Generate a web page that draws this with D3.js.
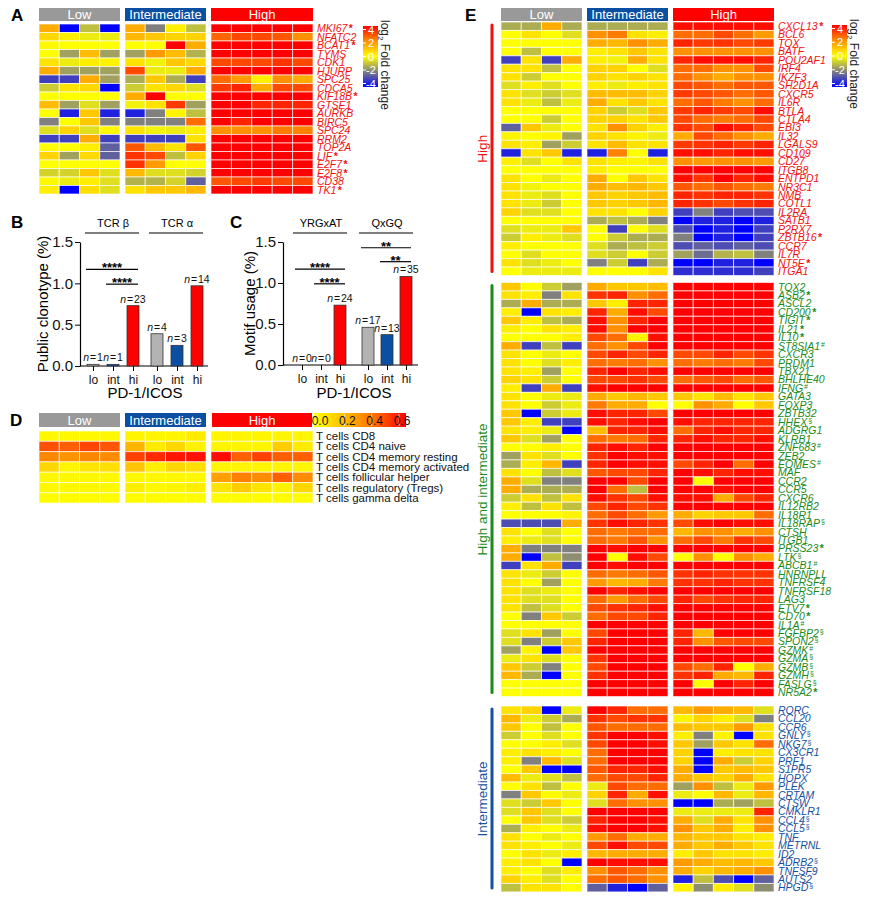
<!DOCTYPE html>
<html>
<head>
<meta charset="utf-8">
<script src="https://cdn.jsdelivr.net/npm/d3@7"></script>
<style>
  body { margin: 0; background: #fff; }
  text { font-family: "Liberation Sans", Arial, sans-serif; }
</style>
</head>
<body>
<svg width="875" height="900"></svg>
<script>
// ---------- data ----------
let groupNames = ["Low", "Intermediate", "High"];
let groupFill = ["#999999", "#0b4fa3", "#ff0000"];

// panel A : log2 fold change, 4 low / 4 int / 5 high columns
let aGenes = ["MKI67*", "NFATC2", "BCAT1*", "TYMS", "CDK1", "HJURP", "SPC25", "CDCA5", "KIF18B*", "GTSE1",
  "AURKB", "BIRC5", "SPC24", "RRM2", "TOP2A", "LIF*", "E2F7*", "E2F8*", "CD38", "TK1*"];
let aFold = [
  [1.5, -4, -1, -4, 1.5, -2, 0.3, -1, 4, 4, 4, 4, 4],
  [0.7, 0.3, -0.3, -0.3, 1.3, 1, 0.8, 0.8, 2.6, 3, 3, 2.8, 2],
  [0.1, 0, 0, 0, 0, 0, 4, 1.5, 4, 4, 4, 4, 4],
  [0, -1.5, 1.2, -1.5, -1.5, 1.8, 1.2, -1.2, 4, 4, 4, 4, 4],
  [0.5, -0.3, 0.3, 0.2, 0.5, -0.2, 1, 0.7, 3, 3, 3, 3.3, 3],
  [1.5, -1.5, -1.5, -1.5, 3, -0.3, -0.3, 1.5, 4, 4, 4, 4, 4],
  [-3, -3, 1.5, -1.5, -1.3, 1, -1.3, -3, 2.5, 1.8, 0.3, 2, 1.5],
  [-0.8, 0.5, 0.7, -4, -0.8, 0.5, 0.7, -0.5, 3.2, 3.5, 1.5, 3, 3],
  [0, 0, 0, 0, 1.5, 4, 0, 0, 4, 4, 4, 4, 4],
  [1.2, -1.5, -0.5, -1.5, -0.2, 0.5, 3.2, -1.5, 4, 4, 3.5, 3.5, 3.5],
  [0, -3.5, 1, -3.5, -3.5, -2, 0.2, -1, 4, 4, 4, 4, 4],
  [-2, 0, 1, -2, -2, -2, -2, 2.5, 4, 3.5, 4, 4, 4],
  [-0.5, 0.8, -0.5, 0.1, 0.5, -0.2, -0.3, 0.3, 2, 2, 2, 2.3, 2.2],
  [-3, -3, 1.5, -3, -3, -3, -3, 0.5, 4, 4, 4, 4, 4],
  [0, 0, 0.3, -2.5, 2.8, 1.2, 0.5, 2.8, 4, 4, 4, 4, 4],
  [0.8, -1.5, 0.7, -2.5, 3.3, 3, -1, 0.8, 4, 4, 4, 4, 4],
  [0, 0, 0, 0, 3.3, 1.8, 0, 0, 4, 4, 4, 4, 4],
  [-0.7, -0.7, 1, -0.5, 1.3, -0.5, -0.5, -0.7, 4, 4, 4, 4, 4],
  [0.1, -0.3, 0.3, -0.5, -1.2, -1.2, -0.7, -2.5, 2.8, 3, 3.2, 3, 3],
  [0.3, -4, 0.6, -0.5, 0.5, 1, 1, 1.3, 4, 4, 4, 4, 4]
];

// panel B / C
let pdLevels = ["lo", "int", "hi"];
let bGroups = ["TCR β", "TCR α"];
let bTcrBeta = [0.02, 0.02, 0.73];
let bTcrAlpha = [0.39, 0.25, 0.97];
let bTcrBetaN = [1, 1, 23];
let bTcrAlphaN = [4, 3, 14];
let cGroups = ["YRGxAT", "QxGQ"];
let cYrgxat = [0, 0, 0.73];
let cQxgq = [0.46, 0.37, 1.08];
let cYrgxatN = [0, 0, 24];
let cQxgqN = [17, 13, 35];
let yTicks = [0, 0.5, 1.0, 1.5];
// significance brackets: [group, from, to, label, height]
let bSig = [[0, "lo", "hi", "****", 1.17], [0, "int", "hi", "****", 0.99]];
let cSig = [[0, "lo", "hi", "****", 1.17], [0, "int", "hi", "****", 0.99],
            [1, "lo", "hi", "**", 1.43], [1, "int", "hi", "**", 1.26]];

// panel D : cell fractions
let dCells = ["T cells CD8", "T cells CD4 naive", "T cells CD4 memory resting", "T cells CD4 memory activated",
  "T cells follicular helper", "T cells regulatory (Tregs)", "T cells gamma delta"];
let dFraction = [
  [0.02, 0.02, 0.02, 0.02, 0.03, 0.03, 0.03, 0.06, 0.03, 0.03, 0.03, 0.03, 0.03],
  [0.45, 0.42, 0.47, 0.44, 0.22, 0.06, 0.12, 0.04, 0.03, 0.03, 0.03, 0.15, 0.06],
  [0.33, 0.3, 0.33, 0.32, 0.48, 0.52, 0.56, 0.57, 0.58, 0.42, 0.48, 0.42, 0.42],
  [0.12, 0.03, 0.08, 0.1, 0.18, 0.05, 0.12, 0.1, 0.03, 0.03, 0.03, 0.03, 0.03],
  [0.02, 0.02, 0.02, 0.02, 0.02, 0.02, 0.02, 0.02, 0.27, 0.35, 0.32, 0.42, 0.32],
  [0.02, 0.02, 0.02, 0.02, 0.05, 0.02, 0.03, 0.05, 0.08, 0.15, 0.08, 0.04, 0.12],
  [0.01, 0.01, 0.01, 0.01, 0.01, 0.01, 0.01, 0.01, 0.01, 0.01, 0.01, 0.01, 0.01]
];
let dTicks = [0, 0.2, 0.4, 0.6];

// panel E
let eHighGenes = ["CXCL13*", "BCL6", "TOX", "BATF", "POU2AF1", "IRF4", "IKZF3", "SH2D1A", "CXCR5", "IL6R",
  "BTLA", "CTLA4", "EBI3", "IL32", "LGALS9", "CD109", "CD27", "ITGB8", "ENTPD1", "NR3C1",
  "NMB", "COTL1", "IL2RA", "SATB1", "P2RX7", "ZBTB16*", "CCR7", "IL7R", "NT5E*", "ITGA1"];
let eHighFold = [
  [-1.3, -1.3, 1.5, -1.3, -1.3, -1.3, -1.3, -1.3, 3.8, 3.8, 3.8, 3.8, 3.8],
  [0, 0.5, 0, -0.5, 2, 2.3, 0.5, 0.3, 2.5, 2.5, 3, 2.5, 1.8],
  [0, 0, 0, 0, 1.5, 1.3, 2, 1.5, 3.5, 3.2, 3.3, 3, 3.2],
  [0, -1, 0, 0, 0.3, 0.5, 1, 0.5, 2, 2, 2, 2, 2],
  [-3, 0.5, -3, 1.5, 0.3, -0.2, 1.5, 0.5, 3.5, 3.8, 3.8, 3.8, 3.5],
  [0.5, 0.5, -1, 0, 0.8, 0.8, 0, -0.5, 2.5, 2.5, 2, 2, 3],
  [0.5, -0.8, 0, 0, 0.8, 0.5, 0.8, 0.5, 2.5, 2, 1.5, 2, 2],
  [-0.5, 0.3, -0.5, 0, 0.3, -0.3, 0.3, 0.5, 3, 2.8, 2.5, 2.8, 2.8],
  [0.5, -0.5, -0.8, -0.5, 1.2, 1.2, 1.2, 0.8, 3.2, 3, 2.8, 2.5, 2.8],
  [0.5, -0.3, -1, -0.3, 1.5, 0.5, 1, 0.5, 2.5, 2.8, 2.3, 2, 2.5],
  [0, 0, 0, 0, 0.8, -0.8, -0.5, 1, 3.2, 3.5, 3.2, 3, 3.8],
  [0, 0, -0.8, 0, 0.8, 0.8, 0.5, 1, 3, 2.5, 2.3, 2.5, 3],
  [-2.5, 1, -0.3, 0, 0.5, 2, 0.8, 0.3, 3.3, 3, 3.8, 3.5, 3],
  [0.2, 0, 0.2, -1.5, 0.8, 0.5, 0.2, -0.3, 1.5, 3, 2.5, 2, 1.5],
  [0.5, 0.3, -1.5, -0.8, 0.5, 1.2, 0.5, 0.5, 3.2, 3.3, 3.5, 3.2, 3.5],
  [-3.5, 0.5, 1, -3.5, -3.5, 2.2, 0, -3.5, 3.8, 3.8, 3.5, 3.8, 3.8],
  [0.3, -0.5, 0, 0.5, 0.5, 0.3, 0.2, 0.5, 2, 1.8, 2, 2, 1.8],
  [0, 0, 0, 0, 0.3, 0, 0, 0, 4, 4, 4, 4, 4],
  [0.5, 0, -0.3, 0, 1.5, 0, 1, 0.5, 3.8, 3.3, 4, 3.5, 3.8],
  [0.5, -0.2, 0, 0, 1.5, 1.2, 1.3, 1, 2.8, 2.5, 2.8, 2.5, 2.3],
  [0.5, -0.3, -0.5, 0, 1, 0.8, 1, 1.2, 3.5, 3.3, 3.5, 3.5, 3.3],
  [0.5, -0.3, -0.8, 0, 1, 0.8, 1, 1.3, 3.5, 3.3, 3, 3.3, 3.5],
  [0.8, -0.5, -0.5, 0, 0.5, 0.5, 0, 0.8, -3, -2, -3, -2.8, -2.8],
  [0, 0, 0, 0, -1.3, -1, -1.3, -2, -4, -3.5, -3.5, -4, -3.5],
  [-0.5, -0.3, -0.3, 1, 0, -3, 0, -0.5, -2.8, -4, -3.5, -4, -3],
  [-0.8, 0.3, -0.3, -0.5, 0, -0.8, -1.3, -1.3, -2, -4, -3.5, -4, -3],
  [0.3, 0, 0, 0, -0.5, -1.3, -1, -0.8, -2.8, -2.5, -2.8, -2.5, -2.8],
  [0, -0.5, 0, 0, -0.5, -0.8, 0, -0.8, -1.5, -2.3, -1.2, -1, -2],
  [0.5, -0.5, -0.3, 0, -2, -0.8, -3, -1.3, -4, -4, -3.5, -3.5, -4],
  [0, -0.3, -0.3, -0.3, 0, 0, 0, 0.5, -3.3, -3.3, -3.3, -3.3, -3]
];
let eBothGenes = ["TOX2", "ASB2*", "ASCL2", "CD200*", "TIGIT*", "IL21*", "IL10*", "ST8SIA1#", "CXCR3", "PRDM1",
  "TBX21", "BHLHE40", "IFNG#", "GATA3", "FOXP3", "ZBTB32", "HHEX§", "ADGRG1", "KLRB1", "ZNF683#",
  "ZEB2", "EOMES#", "MAF", "CCR2", "CCR5", "CXCR6", "IL12RB2", "IL18R1", "IL18RAP§", "CTSH",
  "ITGB1", "PRSS23*", "LTK§", "ABCB1#", "HNRNPLL", "TNFRSF4", "TNFRSF18", "LAG3", "ETV7*", "CD70*",
  "IL1A#", "FGFBP2§", "SPON2§", "GZMK#", "GZMA§", "GZMB§", "GZMH§", "FASLG§", "NR5A2*"];
let eBothFold = [
  [1, 0, -0.8, -1.5, 1.5, 1, 1, 1.2, 4, 4, 4, 4, 4],
  [0.5, 0.3, -2, 0.5, 3.3, 3.5, 2, 2.5, 4, 4, 4, 4, 4],
  [-1.3, 1.5, -1.3, -1.3, 1, 0.3, 3.5, 3.5, 4, 4, 4, 4, 4],
  [0.3, -4, 0.5, 0.3, 3.5, 1.5, 3.8, 3, 4, 4, 4, 4, 4],
  [1, 0.3, -1, -1.3, 3.8, 2, 3.5, 4, 4, 4, 4, 4, 4],
  [0.3, 0, 0.5, 0.3, 3.8, 2, 4, 4, 4, 4, 4, 4, 4],
  [0, 0, 0, 0.3, 3, 2.5, 0.2, 3.8, 4, 4, 4, 4, 4],
  [1.5, -3, -1, -3, 2.5, 2, 3, 4, 4, 4, 4, 4, 4],
  [0.5, 0, -0.3, 0, 3, 3.5, 3, 3.5, 3, 3, 3.5, 3, 3.3],
  [0.5, 0, -0.5, 0.3, 2.5, 2.3, 2.5, 2, 2.5, 2.3, 2.5, 2.3, 3],
  [0.5, 0.3, -1.5, 0, 3.5, 4, 3.5, 3.8, 4, 4, 4, 4, 4],
  [0.8, 0.5, -0.8, 0, 3, 3, 3.3, 3, 2.5, 2.8, 3, 2.5, 2.8],
  [0.3, -3, 1.5, -3, 3.8, 4, 4, 4, 4, 4, 4, 4, 4],
  [0.5, 0, -0.3, -0.3, 1.5, 1, 1.3, 1, 1, 0.5, 1.2, 0.5, 1],
  [0.5, 0, -0.8, -0.3, 2.3, 1.5, 1.5, 0, 0, 2, 1.5, 0, 1],
  [1, -4, -0.8, -0.3, 3.8, 3.5, 3.5, 3, 4, 4, 4, 4, 4],
  [1, 0.3, -3, -3, 3.8, 3.5, 3.8, 4, 3.8, 3.5, 3.5, 3.5, 3.5],
  [0.5, 0.3, -0.3, -4, 1.2, 3.5, 3.5, 3.8, 2.5, 3.5, 3.8, 3.5, 3.5],
  [1, -0.5, -1.5, 0, 2.5, 2.3, 2.5, 3.5, 3.5, 3.8, 3.5, 3.5, 3.8],
  [0, 0, 0.3, 0, 3.5, 3.8, 3.5, 4, 4, 4, 4, 4, 4],
  [-1.5, 0.5, -0.5, 0, 3.3, 4, 3.8, 3.8, 4, 4, 4, 4, 4],
  [-1.3, 0.3, 1.3, -3, 3.5, 4, 3.8, 3.8, 3, 3.5, 4, 2.5, 4],
  [0.5, 0, -1, -0.5, 2.8, 3, 3, 3.5, 4, 3.8, 3.5, 3.8, 3.8],
  [1.5, -0.5, -2, -2, 4, 4, 3, 4, 4, 0, 4, 4, 4],
  [1.5, -1.3, -1.3, -1.3, 4, 2.5, -1, 4, 4, 4, 3.8, 4, 4],
  [-0.8, 0.5, -1, 0.5, 3.8, 3.3, 3, 3.8, 3.8, 3.8, 1.5, 3, 3.5],
  [0.3, -1, 0.5, -1, 3, 3.5, 3, 3.3, 4, 4, 4, 4, 4],
  [0, 0, 0, 0.2, 2.5, 3, 2.5, 1.8, 1.5, 0.8, 1, 1, 2.5],
  [-2.8, -2.8, -2.8, 1.5, 3.3, 3.8, 3.5, 3.3, 3, 3.8, 4, 3.8, 3.8],
  [0.5, 0, -0.5, 0, 2.5, 2.3, 2.5, 2.5, 1.3, 2, 2, 1.5, 2],
  [0.3, -0.3, -0.5, 0, 2.5, 2.3, 2.8, 2, 2.5, 3, 2.3, 3.3, 3],
  [1.5, -2, -2, -2, 4, 3.8, 4, 4, 4, 4, 4, 4, 4],
  [1.5, -4, -1, -1.8, 4, 0, 3.8, 3, 0, 2, 0, 2, 1.5],
  [-3, 0.5, 1.5, -3, 4, 3.8, 4, 4, 4, 4, 4, 4, 4],
  [0.5, -0.3, -0.8, 0, 2.5, 2.3, 2.5, 2.8, 3.3, 3.5, 3.3, 3.3, 3.3],
  [0.5, 0, -1.5, 0, 1.8, 1.3, 1.5, 2.3, 3.3, 3.3, 3.5, 3.3, 3.3],
  [0.5, -0.5, -0.3, 0, 4, 3.5, 3.8, 4, 4, 4, 4, 4, 4],
  [0.5, -0.5, -0.5, 0, 2.5, 1.8, 2.5, 3, 3.5, 3, 3.3, 3.5, 3.5],
  [0.5, -1, -0.5, 0, 3, 3.3, 3.5, 3.8, 4, 4, 4, 4, 4],
  [0, -2, 1, -0.8, 2.5, 3, 3, 3.5, 4, 4, 4, 4, 4],
  [0, 0, 0, 0, 4, 4, 4, 4, 4, 4, 4, 4, 4],
  [-0.5, 0.5, -1.5, 0, 3, 4, 4, 4, 3.5, 1.3, 4, 4, 4],
  [-0.5, -2, -0.8, 1, 3.5, 4, 4, 4, 3.5, 2, 2.8, 3, 3],
  [-1.5, 0.2, -4, 1, 4, 4, 4, 4, 4, 4, 4, 4, 4],
  [-0.3, 0.5, -0.5, 0, 3.3, 4, 4, 4, 4, 4, 4, 4, 4],
  [1, -0.8, -2, 0, 3, 4, 4, 4, 3, 2.5, 3.5, 0, 1.5],
  [1.3, -1.3, -4, 0, 3.3, 4, 4, 4, 3.3, 3.5, 1.5, 1.3, 3.5],
  [0, 0, 0, 0, 4, 4, 4, 4, 4, 0, 4, 3.5, 4],
  [0, 0, 0, 0, 4, 4, 4, 4, 4, 4, 4, 4, 4]
];
let eIntGenes = ["RORC", "CCL20", "CCR6", "GNLY§", "NKG7§", "CX3CR1", "PRF1", "S1PR5", "HOPX", "PLEK",
  "CRTAM", "CTSW", "CMKLR1", "CCL4§", "CCL5§", "TNF", "METRNL", "ID2", "ADRB2§", "TNFSF9", "AUTS2", "HPGD§"];
let eIntFold = [
  [0.5, 0.8, -4, -0.3, 4, 3.5, 2.5, 2.5, 1.3, 1.8, 1.5, 1.3, -0.5],
  [1.3, -0.3, -0.8, -1.3, 3.3, 3, 3.3, 3.3, 0.2, 0.8, 0.3, -0.5, -2],
  [1, 0, -1, 0, 2.8, 2.5, 2.5, 2.5, 1.2, 1, 1, 1.8, 0.5],
  [-0.8, 0, -0.5, 0, 3.3, 4, 4, 3.8, 0.3, -2, 0.2, -4, 0.5],
  [0, 0, 0.3, -0.5, 3, 4, 4, 3.8, 1, -1.5, 1, 0.5, 2.5],
  [0.3, 0.5, 0.3, 0, 2.5, 4, 4, 4, 0.8, -4, 0.3, 0.5, 0.5],
  [0.3, -2, 1.3, -0.5, 2.5, 4, 4, 4, 0.8, -4, 1.5, -0.8, 0.8],
  [0, 1, -4, -4, 2.8, 3.5, 3.5, 3.8, 1.5, -4, 1, 1.2, 1],
  [1.2, -0.3, -0.5, -1, 2.5, 3, 3, 3.5, 1.5, 1, 0.8, 1.5, 0.5],
  [0, 0.5, -1, 0, -0.3, 3, 2.5, 2.5, -1.5, 2, -1, -0.3, 1.8],
  [-2, 1, 0, -0.3, 0.8, 3.5, 1.5, 3.8, -0.3, 0, 1.3, -0.3, 1.3],
  [-0.5, -0.8, 1, 0, -0.5, 2.5, 2, 2, -4, -4, -1.3, -1.5, -1],
  [-0.5, 1, -0.5, 0, 4, 4, 4, 4, -0.3, -0.3, -0.3, -0.3, 3.5],
  [0, 1, -0.5, -0.8, 3.5, 4, 4, 3.8, 1.5, -0.5, 1.5, 0.5, 2],
  [-1.3, 0.3, 0, -0.3, 3.8, 4, 4, 3.8, 2, 1, 1.5, 0.3, 2],
  [0.5, 0, -0.3, 0, 1.8, 2.5, 1.5, 1.5, 1.3, 1, 1, 0.5, 0.3],
  [0.5, 0.3, 0, -0.3, 3, 3.8, 3, 3, 1.5, 1, 1.5, 1, 0.5],
  [0, 0.5, -0.3, 0.3, 1.3, 1.5, 1.5, 1.5, 0.3, 1, 0.5, 0.5, 0.3],
  [0.3, 0.5, 0, -4, 4, 3.8, 3.8, 3.8, 1.8, 1.5, 1.2, 1.3, 1],
  [0.3, 0, -0.5, 0.3, 2, 2.8, 2.5, 2, 1.5, 0.8, 1.3, 1.5, 2],
  [0.8, 0.3, -0.5, 0, 2.5, 2.8, 2.5, 2, -3.5, -1, -2.8, -4, -2.5],
  [-1, 0.5, 0.5, 0, -2.5, -3.5, -4, -2.5, 0.2, -1.8, 0.3, -0.5, -1.8]
];
let foldTicks = [4, 2, 0, -2, -4];

// ---------- drawing ----------
let svg = d3.select("svg");
let fold = d3.scaleLinear().domain([-4, -2, 0, 2, 4])
  .range(["#0000ff", "#80807f", "#ffff00", "#ff9000", "#ff0000"]).clamp(true);
let frac = d3.scaleLinear().domain([0, 0.2, 0.4, 0.6])
  .range(["#ffff00", "#ffbc00", "#ff6a00", "#ff0000"]).clamp(true);

let aBlocks = [{start: 0, n: 4, x0: 39, x1: 120}, {start: 4, n: 4, x0: 125, x1: 206}, {start: 8, n: 5, x0: 211, x1: 313}];
let eBlocks = [{start: 0, n: 4, x0: 501, x1: 582}, {start: 4, n: 4, x0: 587, x1: 668}, {start: 8, n: 5, x0: 673, x1: 774}];

function panelLetter(t, x, y) {
  svg.append("text").attr("x", x).attr("y", y).attr("font-size", 17).attr("font-weight", "bold").text(t);
}

function headers(blocks, y, h) {
  blocks.forEach((b, i) => {
    svg.append("rect").attr("x", b.x0).attr("y", y).attr("width", b.x1 - b.x0).attr("height", h)
      .attr("fill", groupFill[i]);
    svg.append("text").attr("x", (b.x0 + b.x1) / 2).attr("y", y + h / 2 + 4.5)
      .attr("text-anchor", "middle").attr("fill", "#fff").attr("font-size", 13).text(groupNames[i]);
  });
}

function heatmap(rows, top, rowH, blocks, color) {
  let y = d3.scaleBand().domain(d3.range(rows.length)).range([top, top + rows.length * rowH]);
  blocks.forEach(b => {
    let x = d3.scaleBand().domain(d3.range(b.n)).range([b.x0, b.x1]);
    let cells = rows.flatMap((r, ri) => r.slice(b.start, b.start + b.n).map((v, ci) => ({v: v, ri: ri, ci: ci})));
    svg.append("g").selectAll("rect").data(cells).join("rect")
      .attr("x", d => x(d.ci)).attr("y", d => y(d.ri))
      .attr("width", x.bandwidth()).attr("height", y.bandwidth())
      .attr("fill", d => color(d.v))
      .attr("stroke", "#fff").attr("stroke-opacity", 0.65).attr("stroke-width", 1);
  });
  return y;
}

function geneLabels(genes, y, x, col) {
  let t = svg.append("g").selectAll("text").data(genes).join("text")
    .attr("x", x).attr("y", (d, i) => y(i) + y.bandwidth() / 2 + 3.8)
    .attr("font-size", 10.5).attr("font-style", "italic").attr("fill", col);
  t.each(function (d) {
    let m = d.match(/^(.*?)([*#§]?)$/);
    let s = d3.select(this);
    s.append("tspan").text(m[1]);
    if (m[2] === "*") s.append("tspan").attr("font-style", "normal").attr("font-weight", "bold").attr("dx", 1.5).text("*");
    else if (m[2]) s.append("tspan").attr("font-size", 7).attr("font-style", "normal").attr("dx", 1).attr("dy", -3).text(m[2]);
  });
}

function foldLegend(x, y0, y1, lx) {
  let id = "fg" + x;
  let grad = svg.append("defs").append("linearGradient").attr("id", id)
    .attr("x1", 0).attr("y1", 0).attr("x2", 0).attr("y2", 1);
  foldTicks.forEach((v, i) => grad.append("stop").attr("offset", i / 4).attr("stop-color", fold(v)));
  svg.append("rect").attr("x", x).attr("y", y0).attr("width", 15).attr("height", y1 - y0).attr("fill", "url(#" + id + ")");
  let ys = d3.scaleLinear().domain([-4, 4]).range([y1 - 3.5, y0 + 3.5]);
  foldTicks.forEach(v => {
    svg.append("line").attr("x1", x).attr("x2", x + 3).attr("y1", ys(v)).attr("y2", ys(v)).attr("stroke", "#fff");
    svg.append("text").attr("x", x + 8).attr("y", ys(v) + 4).attr("text-anchor", "middle")
      .attr("fill", "#fff").attr("font-size", 11).text(v);
  });
  let t = svg.append("text").attr("transform", "translate(" + lx + "," + (y0 - 6) + ") rotate(90)")
    .attr("font-size", 12).attr("fill", "#222");
  t.append("tspan").text("log");
  t.append("tspan").attr("font-size", 8).attr("dy", 3).text("2");
  t.append("tspan").attr("dy", -3).text(" Fold change");
}

// ---- A ----
panelLetter("A", 11, 21);
headers(aBlocks, 8, 13);
let aY = heatmap(aFold, 24, 8.5, aBlocks, fold);
geneLabels(aGenes, aY, 317, "#f01010");
foldLegend(363, 26, 87, 381);

// ---- B and C bar charts ----
function barChart(opt) {
  let y = d3.scaleLinear().domain([0, 1.5]).range([opt.y0, opt.y1]);
  let outer = d3.scalePoint().domain(opt.groups).range(opt.centers);
  let inner = d3.scalePoint().domain(pdLevels).range([-opt.step, opt.step]);
  let cx = (g, l) => outer(g) + inner(l);
  let g = svg.append("g");

  g.append("g").attr("transform", "translate(" + opt.axisX + ",0)")
    .call(d3.axisLeft(y).tickValues(yTicks).tickFormat(d3.format(".1f")).tickSize(5).tickSizeOuter(0))
    .call(a => a.selectAll("text").attr("font-size", 15).attr("fill", "#111").attr("x", -7))
    .call(a => a.select(".domain").attr("stroke-width", 1.2));
  g.append("line").attr("x1", opt.axisX).attr("x2", opt.axisEnd).attr("y1", opt.y0).attr("y2", opt.y0)
    .attr("stroke", "#000").attr("stroke-width", 1.2);

  let keys = [], pos = [];
  opt.groups.forEach(gr => pdLevels.forEach(l => { keys.push(gr + "|" + l); pos.push(cx(gr, l)); }));
  let xs = d3.scaleOrdinal().domain(keys).range(pos);
  g.append("g").attr("transform", "translate(0," + opt.y0 + ")")
    .call(d3.axisBottom(xs).tickSize(5).tickFormat(k => k.split("|")[1]))
    .call(a => a.select(".domain").remove())
    .call(a => a.selectAll("text").attr("font-size", 12).attr("fill", "#111").attr("dy", "0.85em"));

  let fills = ["#b3b3b3", "#0b4fa3", "#ff0000"];
  opt.groups.forEach((gr, gi) => {
    let vals = opt.values[gi], ns = opt.ns[gi];
    g.append("g").selectAll("rect").data(vals).join("rect")
      .attr("x", (d, i) => cx(gr, pdLevels[i]) - 6).attr("width", 12)
      .attr("y", d => y(d)).attr("height", d => opt.y0 - y(d))
      .attr("fill", (d, i) => fills[i]).attr("stroke", "#333").attr("stroke-width", 0.8);
    let lab = g.append("g").selectAll("text").data(vals).join("text")
      .attr("x", (d, i) => cx(gr, pdLevels[i])).attr("y", d => y(d) - 3)
      .attr("text-anchor", "middle").attr("font-size", 10.5).attr("fill", "#111");
    lab.append("tspan").attr("font-style", "italic").text("n");
    lab.append("tspan").text((d, i) => "\u200a=\u200a" + ns[i]);
    // group header
    g.append("text").attr("x", outer(gr)).attr("y", 227).attr("text-anchor", "middle").attr("font-size", 11).text(gr);
    g.append("line").attr("x1", outer(gr) - 28).attr("x2", outer(gr) + 26).attr("y1", 233).attr("y2", 233)
      .attr("stroke", "#000").attr("stroke-width", 1.2);
  });

  opt.sig.forEach(s => {
    let gr = opt.groups[s[0]];
    let xa = cx(gr, s[1]) - 7, xb = cx(gr, s[2]) + 5, yy = y(s[4]);
    g.append("line").attr("x1", xa).attr("x2", xb).attr("y1", yy).attr("y2", yy).attr("stroke", "#000").attr("stroke-width", 1.2);
    g.append("text").attr("x", (xa + xb) / 2).attr("y", yy + 3).attr("text-anchor", "middle")
      .attr("font-size", 13).attr("font-weight", "bold").text(s[3]);
  });

  g.append("text").attr("transform", "translate(" + opt.labelX + "," + ((opt.y0 + opt.y1) / 2) + ") rotate(-90)")
    .attr("text-anchor", "middle").attr("font-size", 15).text(opt.yLabel);
  g.append("text").attr("x", opt.centers[0] / 2 + opt.centers[1] / 2).attr("y", 398)
    .attr("text-anchor", "middle").attr("font-size", 15).text("PD-1/ICOS");
}

panelLetter("B", 11, 228);
barChart({groups: bGroups, values: [bTcrBeta, bTcrAlpha], ns: [bTcrBetaN, bTcrAlphaN], sig: bSig,
  centers: [113, 177], step: 20, y0: 366, y1: 242, axisX: 80, axisEnd: 208, labelX: 48, yLabel: "Public clonotype (%)"});
panelLetter("C", 230, 228);
barChart({groups: cGroups, values: [cYrgxat, cQxgq], ns: [cYrgxatN, cQxgqN], sig: cSig,
  centers: [321, 387], step: 19, y0: 365, y1: 242, axisX: 283, axisEnd: 418, labelX: 255, yLabel: "Motif usage (%)"});

// ---- D ----
panelLetter("D", 10, 426);
headers(aBlocks.map((b, i) => i === 2 ? {start: b.start, n: b.n, x0: 212, x1: 312} : b), 413, 14);
let dY = heatmap(dFraction, 431, 10.3, aBlocks, frac);
svg.append("g").selectAll("text").data(dCells).join("text")
  .attr("x", 316).attr("y", (d, i) => dY(i) + dY.bandwidth() / 2 + 4)
  .attr("font-size", 11.5).attr("fill", "#111").text(d => d);
{
  let grad = svg.append("defs").append("linearGradient").attr("id", "dgrad");
  dTicks.forEach((v, i) => grad.append("stop").attr("offset", i / 3).attr("stop-color", frac(v)));
  svg.append("rect").attr("x", 314).attr("y", 413).attr("width", 92).attr("height", 14).attr("fill", "url(#dgrad)");
  let xs = d3.scaleLinear().domain([0, 0.6]).range([320, 402]);
  dTicks.forEach(v => {
    svg.append("line").attr("x1", xs(v) - 3).attr("x2", xs(v) - 3).attr("y1", 414).attr("y2", 426).attr("stroke", "#fff").attr("stroke-width", 0.8);
    svg.append("text").attr("x", xs(v)).attr("y", 425).attr("text-anchor", "middle").attr("font-size", 12)
      .attr("fill", "#111").text(d3.format(".1f")(v));
  });
}

// ---- E ----
panelLetter("E", 465, 21);
headers(eBlocks, 8, 13);
let eRowH = 8.45;
let eSets = [
  {genes: eHighGenes, vals: eHighFold, top: 22, col: "#f01010", label: "High"},
  {genes: eBothGenes, vals: eBothFold, top: 282.5, col: "#1a8a1a", label: "High and intermediate"},
  {genes: eIntGenes, vals: eIntFold, top: 706, col: "#16509f", label: "Intermediate"}
];
eSets.forEach(s => {
  let y = heatmap(s.vals, s.top, eRowH, eBlocks, fold);
  geneLabels(s.genes, y, 778, s.col);
  let yb = s.top, ye = s.top + s.vals.length * eRowH;
  svg.append("line").attr("x1", 492).attr("x2", 492).attr("y1", yb + 3).attr("y2", ye - 4)
    .attr("stroke", s.col).attr("stroke-width", 3).attr("stroke-linecap", "round");
  svg.append("text").attr("transform", "translate(487," + ((yb + ye) / 2) + ") rotate(-90)")
    .attr("text-anchor", "middle").attr("font-size", 13.5).attr("fill", s.col).text(s.label);
});
foldLegend(832, 25, 87, 850);
</script>
</body>
</html>
